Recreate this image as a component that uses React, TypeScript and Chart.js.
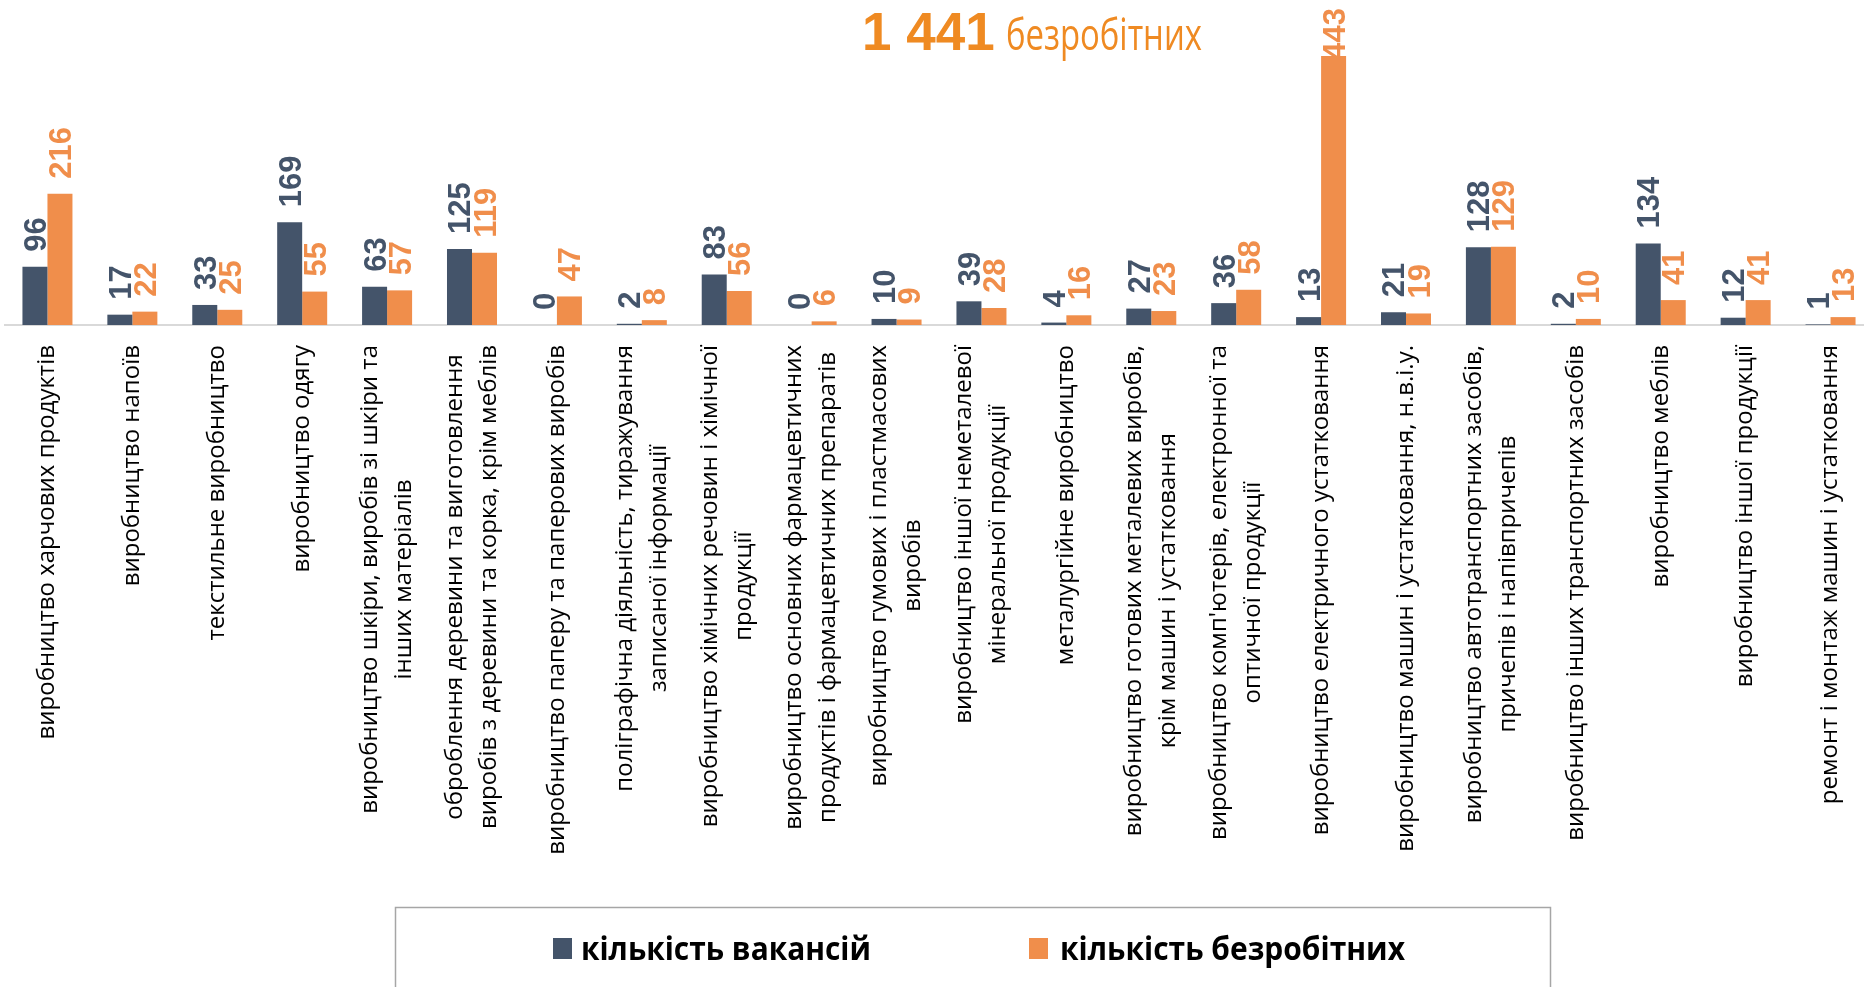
import React, { useEffect, useRef } from "react";
import { Chart, registerables } from "chart.js";

Chart.register(...registerables);

const categories: (string | string[])[] = [
  "виробництво харчових продуктів",
  "виробництво напоїв",
  "текстильне виробництво",
  "виробництво одягу",
  ["виробництво шкіри, виробів зі шкіри та", "інших матеріалів"],
  ["оброблення деревини та виготовлення", "виробів з деревини та корка, крім меблів"],
  "виробництво паперу та паперових виробів",
  ["поліграфічна діяльність, тиражування", "записаної інформації"],
  ["виробництво хімічних речовин і хімічної", "продукції"],
  ["виробництво основних фармацевтичних", "продуктів і фармацевтичних препаратів"],
  ["виробництво гумових і пластмасових", "виробів"],
  ["виробництво іншої неметалевої", "мінеральної продукції"],
  "металургійне виробництво",
  ["виробництво готових металевих виробів,", "крім машин і устатковання"],
  ["виробництво комп'ютерів, електронної та", "оптичної продукції"],
  "виробництво електричного устатковання",
  "виробництво машин і устатковання, н.в.і.у.",
  ["виробництво автотранспортних засобів,", "причепів і напівпричепів"],
  "виробництво інших транспортних засобів",
  "виробництво меблів",
  "виробництво іншої продукції",
  "ремонт і монтаж машин і устатковання",
];

const vacancies = [96, 17, 33, 169, 63, 125, 0, 2, 83, 0, 10, 39, 4, 27, 36, 13, 21, 128, 2, 134, 12, 1];
const unemployed = [216, 22, 25, 55, 57, 119, 47, 8, 56, 6, 9, 28, 16, 23, 58, 443, 19, 129, 10, 41, 41, 13];

const seriesNames = ["кількість вакансій", "кількість безробітних"];
const titleNumber = "1 441";
const titleWord = "безробітних";

const DARK = "#44546A";
const ORANGE = "#F08E4B";
const TITLE_ORANGE = "#EF8A22";

const valueLabels = {
  id: "valueLabels",
  afterDatasetsDraw(chart: any) {
    const ctx = chart.ctx;
    ctx.save();
    ctx.font = 'bold 31px "Liberation Sans", Arial, sans-serif';
    chart.data.datasets.forEach((ds: any, di: number) => {
      const meta = chart.getDatasetMeta(di);
      meta.data.forEach((bar: any, i: number) => {
        const txt = String(ds.data[i]);
        const w = ctx.measureText(txt).width;
        let start = bar.y - 15;
        if (start - w < 8) start = 8 + w;
        ctx.save();
        ctx.translate(bar.x + 11, start);
        ctx.rotate(-Math.PI / 2);
        ctx.fillStyle = ds.backgroundColor;
        ctx.textAlign = "left";
        ctx.textBaseline = "alphabetic";
        ctx.fillText(txt, 0, 0);
        ctx.restore();
      });
    });
    ctx.restore();
  },
};

const extras = {
  id: "extras",
  afterDraw(chart: any) {
    const ctx = chart.ctx;
    const xScale = chart.scales.x;
    ctx.save();
    // category labels
    ctx.font = '24px "Open Sans", sans-serif';
    ctx.fillStyle = "#000";
    ctx.textAlign = "center";
    ctx.textBaseline = "middle";
    (chart.data.labels as any[]).forEach((lab: any, i: number) => {
      const lines: string[] = Array.isArray(lab) ? lab : [lab];
      const W = Math.max(...lines.map((l) => ctx.measureText(l).width));
      const cx = xScale.getPixelForValue(i);
      ctx.save();
      ctx.translate(cx, 345);
      ctx.rotate(-Math.PI / 2);
      lines.forEach((l, j) => {
        ctx.fillText(l, -W / 2, (j - (lines.length - 1) / 2) * 34);
      });
      ctx.restore();
    });

    // title
    ctx.textAlign = "left";
    ctx.textBaseline = "alphabetic";
    ctx.fillStyle = TITLE_ORANGE;
    ctx.font = 'bold 53px "Liberation Sans", Arial, sans-serif';
    ctx.fillText(titleNumber, 862, 50);
    ctx.font = '43px "Open Sans", sans-serif';
    const ww = ctx.measureText(titleWord).width;
    ctx.save();
    ctx.translate(1006, 50);
    ctx.scale(196 / ww, 1);
    ctx.fillText(titleWord, 0, 0);
    ctx.restore();

    // legend
    ctx.strokeStyle = "#A6A6A6";
    ctx.lineWidth = 1.5;
    ctx.strokeRect(395.5, 907.5, 1155, 200);
    const items = [
      { x: 553, tx: 581, tw: 290 },
      { x: 1029, tx: 1060, tw: 345 },
    ];
    chart.data.datasets.forEach((ds: any, di: number) => {
      const it = items[di];
      ctx.fillStyle = ds.backgroundColor;
      ctx.fillRect(it.x, 938, 19, 21);
      ctx.fillStyle = "#000";
      ctx.font = 'bold 32px "Open Sans", sans-serif';
      const mw = ctx.measureText(ds.label).width;
      ctx.save();
      ctx.translate(it.tx, 960);
      ctx.scale(it.tw / mw, 1);
      ctx.fillText(ds.label, 0, 0);
      ctx.restore();
    });
    ctx.restore();
  },
};

export default function App() {
  const ref = useRef<HTMLCanvasElement | null>(null);
  useEffect(() => {
    if (!ref.current) return;
    const chart = new Chart(ref.current, {
      type: "bar",
      data: {
        labels: categories as any,
        datasets: [
          { label: seriesNames[0], data: vacancies, backgroundColor: DARK },
          { label: seriesNames[1], data: unemployed, backgroundColor: ORANGE },
        ],
      },
      options: {
        responsive: false,
        animation: false,
        layout: { padding: { left: 5, right: 7, top: 0, bottom: 662 } },
        datasets: { bar: { categoryPercentage: 0.589, barPercentage: 1 } },
        plugins: {
          legend: { display: false },
          title: { display: false },
          tooltip: { enabled: false },
        },
        scales: {
          x: {
            grid: { display: false },
            ticks: { display: false },
            border: { display: true, color: "#D9D9D9", width: 2 },
            afterFit: (s: any) => {
              s.height = 0;
            },
          },
          y: { display: false, min: 0, max: 535 },
        },
      } as any,
      plugins: [valueLabels, extras],
    });
    return () => chart.destroy();
  }, []);
  return (
    <div
      style={{
        position: "fixed",
        left: 0,
        top: 0,
        width: 1864,
        height: 987,
        overflow: "hidden",
        background: "#fff",
      }}
    >
      <canvas ref={ref} width={1880} height={987} style={{ width: 1880, height: 987, display: "block" }} />
    </div>
  );
}
